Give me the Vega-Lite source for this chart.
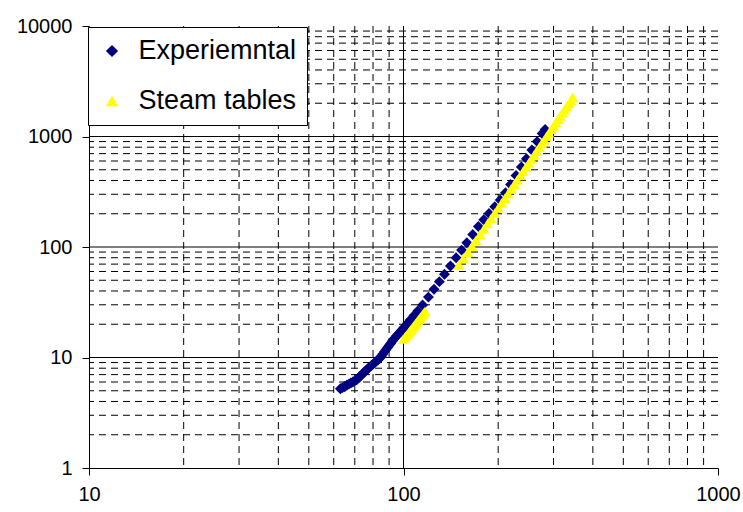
{
  "$schema": "https://vega.github.io/schema/vega-lite/v6.json",
  "autosize": "none",
  "width": 629,
  "height": 442,
  "padding": {"left": 89, "top": 26, "right": 25, "bottom": 44},
  "background": "white",
  "config": {"view": {"stroke": null}, "font": "Liberation Sans",
    "axisX": {"title": null, "format": "d", "grid": false, "domainColor": "#000", "tickColor": "#000", "tickSize": 7, "labelPadding": 9, "labelFontSize": 20, "labelColor": "#000", "labelFont": "Liberation Sans", "labelFlush": false, "labelOverlap": false},
    "axisY": {"title": null, "format": "d", "grid": false, "domainColor": "#000", "tickColor": "#000", "tickSize": 7, "labelPadding": 10, "labelFontSize": 20, "labelColor": "#000", "labelFont": "Liberation Sans", "labelOverlap": false}
  },
  "datasets": {
    "grid": [
      {"dir": "x", "kind": "minor", "v": 20}, {"dir": "x", "kind": "minor", "v": 30}, {"dir": "x", "kind": "minor", "v": 40}, {"dir": "x", "kind": "minor", "v": 50}, {"dir": "x", "kind": "minor", "v": 60}, {"dir": "x", "kind": "minor", "v": 70}, {"dir": "x", "kind": "minor", "v": 80}, {"dir": "x", "kind": "minor", "v": 90},
      {"dir": "x", "kind": "minor", "v": 200}, {"dir": "x", "kind": "minor", "v": 300}, {"dir": "x", "kind": "minor", "v": 400}, {"dir": "x", "kind": "minor", "v": 500}, {"dir": "x", "kind": "minor", "v": 600}, {"dir": "x", "kind": "minor", "v": 700}, {"dir": "x", "kind": "minor", "v": 800}, {"dir": "x", "kind": "minor", "v": 900},
      {"dir": "x", "kind": "major", "v": 100},
      {"dir": "y", "kind": "minor", "v": 2}, {"dir": "y", "kind": "minor", "v": 3}, {"dir": "y", "kind": "minor", "v": 4}, {"dir": "y", "kind": "minor", "v": 5}, {"dir": "y", "kind": "minor", "v": 6}, {"dir": "y", "kind": "minor", "v": 7}, {"dir": "y", "kind": "minor", "v": 8}, {"dir": "y", "kind": "minor", "v": 9},
      {"dir": "y", "kind": "minor", "v": 20}, {"dir": "y", "kind": "minor", "v": 30}, {"dir": "y", "kind": "minor", "v": 40}, {"dir": "y", "kind": "minor", "v": 50}, {"dir": "y", "kind": "minor", "v": 60}, {"dir": "y", "kind": "minor", "v": 70}, {"dir": "y", "kind": "minor", "v": 80}, {"dir": "y", "kind": "minor", "v": 90},
      {"dir": "y", "kind": "minor", "v": 200}, {"dir": "y", "kind": "minor", "v": 300}, {"dir": "y", "kind": "minor", "v": 400}, {"dir": "y", "kind": "minor", "v": 500}, {"dir": "y", "kind": "minor", "v": 600}, {"dir": "y", "kind": "minor", "v": 700}, {"dir": "y", "kind": "minor", "v": 800}, {"dir": "y", "kind": "minor", "v": 900},
      {"dir": "y", "kind": "minor", "v": 2000}, {"dir": "y", "kind": "minor", "v": 3000}, {"dir": "y", "kind": "minor", "v": 4000}, {"dir": "y", "kind": "minor", "v": 5000}, {"dir": "y", "kind": "minor", "v": 6000}, {"dir": "y", "kind": "minor", "v": 7000}, {"dir": "y", "kind": "minor", "v": 8000}, {"dir": "y", "kind": "minor", "v": 9000},
      {"dir": "y", "kind": "major", "v": 10}, {"dir": "y", "kind": "major", "v": 100}, {"dir": "y", "kind": "major", "v": 1000}
    ],
    "pts": [
      {"series": "Experiemntal", "T": 63, "P": 5.21}, {"series": "Experiemntal", "T": 64, "P": 5.35}, {"series": "Experiemntal", "T": 65, "P": 5.47}, {"series": "Experiemntal", "T": 66, "P": 5.6}, {"series": "Experiemntal", "T": 67, "P": 5.74}, {"series": "Experiemntal", "T": 68, "P": 5.87}, {"series": "Experiemntal", "T": 69, "P": 6.01}, {"series": "Experiemntal", "T": 70, "P": 6.15}, {"series": "Experiemntal", "T": 71, "P": 6.3}, {"series": "Experiemntal", "T": 72, "P": 6.55}, {"series": "Experiemntal", "T": 73, "P": 6.81}, {"series": "Experiemntal", "T": 74, "P": 7.08}, {"series": "Experiemntal", "T": 75, "P": 7.36}, {"series": "Experiemntal", "T": 76, "P": 7.65}, {"series": "Experiemntal", "T": 77, "P": 7.92}, {"series": "Experiemntal", "T": 78, "P": 8.18}, {"series": "Experiemntal", "T": 79, "P": 8.44}, {"series": "Experiemntal", "T": 80, "P": 8.71}, {"series": "Experiemntal", "T": 81, "P": 8.99}, {"series": "Experiemntal", "T": 82, "P": 9.27}, {"series": "Experiemntal", "T": 83, "P": 9.55}, {"series": "Experiemntal", "T": 84, "P": 9.84}, {"series": "Experiemntal", "T": 85, "P": 10.29}, {"series": "Experiemntal", "T": 86, "P": 10.76}, {"series": "Experiemntal", "T": 87, "P": 11.26}, {"series": "Experiemntal", "T": 88, "P": 11.78}, {"series": "Experiemntal", "T": 89, "P": 12.31}, {"series": "Experiemntal", "T": 90, "P": 12.85}, {"series": "Experiemntal", "T": 91, "P": 13.41}, {"series": "Experiemntal", "T": 92, "P": 14.0}, {"series": "Experiemntal", "T": 93, "P": 14.58}, {"series": "Experiemntal", "T": 94, "P": 15.1}, {"series": "Experiemntal", "T": 95, "P": 15.63}, {"series": "Experiemntal", "T": 96, "P": 16.15}, {"series": "Experiemntal", "T": 97, "P": 16.7}, {"series": "Experiemntal", "T": 98, "P": 17.26}, {"series": "Experiemntal", "T": 99, "P": 17.82}, {"series": "Experiemntal", "T": 100, "P": 18.41}, {"series": "Experiemntal", "T": 101, "P": 19.0}, {"series": "Experiemntal", "T": 103, "P": 20.4}, {"series": "Experiemntal", "T": 105, "P": 21.8}, {"series": "Experiemntal", "T": 108, "P": 24.0}, {"series": "Experiemntal", "T": 111, "P": 26.4}, {"series": "Experiemntal", "T": 115, "P": 29.8}, {"series": "Experiemntal", "T": 120, "P": 35.2}, {"series": "Experiemntal", "T": 125, "P": 41.5}, {"series": "Experiemntal", "T": 130, "P": 48.6}, {"series": "Experiemntal", "T": 135, "P": 56.6}, {"series": "Experiemntal", "T": 141, "P": 67.4}, {"series": "Experiemntal", "T": 147, "P": 79.8}, {"series": "Experiemntal", "T": 153, "P": 93.7}, {"series": "Experiemntal", "T": 159, "P": 109.4}, {"series": "Experiemntal", "T": 166, "P": 130}, {"series": "Experiemntal", "T": 173, "P": 153.5}, {"series": "Experiemntal", "T": 180, "P": 176.2}, {"series": "Experiemntal", "T": 187, "P": 200.7}, {"series": "Experiemntal", "T": 195, "P": 231.7}, {"series": "Experiemntal", "T": 203, "P": 266.1}, {"series": "Experiemntal", "T": 211, "P": 310}, {"series": "Experiemntal", "T": 219, "P": 368}, {"series": "Experiemntal", "T": 228, "P": 443}, {"series": "Experiemntal", "T": 237, "P": 529}, {"series": "Experiemntal", "T": 246, "P": 628}, {"series": "Experiemntal", "T": 256, "P": 754}, {"series": "Experiemntal", "T": 266, "P": 899}, {"series": "Experiemntal", "T": 276, "P": 1065}, {"series": "Experiemntal", "T": 282, "P": 1160},
      {"series": "Steam tables", "T": 100, "P": 14.71}, {"series": "Steam tables", "T": 101, "P": 15.24}, {"series": "Steam tables", "T": 102, "P": 15.79}, {"series": "Steam tables", "T": 103, "P": 16.35}, {"series": "Steam tables", "T": 104, "P": 16.92}, {"series": "Steam tables", "T": 105, "P": 17.53}, {"series": "Steam tables", "T": 106, "P": 18.13}, {"series": "Steam tables", "T": 107, "P": 18.77}, {"series": "Steam tables", "T": 108, "P": 19.42}, {"series": "Steam tables", "T": 109, "P": 20.09}, {"series": "Steam tables", "T": 110, "P": 20.8}, {"series": "Steam tables", "T": 111, "P": 21.48}, {"series": "Steam tables", "T": 112, "P": 22.21}, {"series": "Steam tables", "T": 113, "P": 22.96}, {"series": "Steam tables", "T": 114, "P": 23.72}, {"series": "Steam tables", "T": 115, "P": 24.54}, {"series": "Steam tables", "T": 116, "P": 25.32}, {"series": "Steam tables", "T": 117, "P": 26.15},
      {"series": "Steam tables", "T": 150, "P": 69.06}, {"series": "Steam tables", "T": 155, "P": 78.83}, {"series": "Steam tables", "T": 160, "P": 89.67}, {"series": "Steam tables", "T": 165, "P": 101.66}, {"series": "Steam tables", "T": 170, "P": 114.9}, {"series": "Steam tables", "T": 175, "P": 129.46}, {"series": "Steam tables", "T": 180, "P": 145.44}, {"series": "Steam tables", "T": 185, "P": 162.95}, {"series": "Steam tables", "T": 190, "P": 182.05}, {"series": "Steam tables", "T": 195, "P": 202.88}, {"series": "Steam tables", "T": 200, "P": 225.52}, {"series": "Steam tables", "T": 205, "P": 250.09}, {"series": "Steam tables", "T": 210, "P": 276.69}, {"series": "Steam tables", "T": 215, "P": 305.44}, {"series": "Steam tables", "T": 220, "P": 336.43}, {"series": "Steam tables", "T": 225, "P": 369.81}, {"series": "Steam tables", "T": 230, "P": 405.69}, {"series": "Steam tables", "T": 235, "P": 444.18}, {"series": "Steam tables", "T": 240, "P": 485.43}, {"series": "Steam tables", "T": 245, "P": 529.56}, {"series": "Steam tables", "T": 250, "P": 576.7}, {"series": "Steam tables", "T": 255, "P": 626.99}, {"series": "Steam tables", "T": 260, "P": 680.56}, {"series": "Steam tables", "T": 265, "P": 737.56}, {"series": "Steam tables", "T": 270, "P": 798.14}, {"series": "Steam tables", "T": 275, "P": 862.45}, {"series": "Steam tables", "T": 280, "P": 930.65}, {"series": "Steam tables", "T": 285, "P": 1002.9}, {"series": "Steam tables", "T": 290, "P": 1079.4}, {"series": "Steam tables", "T": 295, "P": 1160.2}, {"series": "Steam tables", "T": 300, "P": 1245.6}, {"series": "Steam tables", "T": 305, "P": 1335.7}, {"series": "Steam tables", "T": 310, "P": 1430.8}, {"series": "Steam tables", "T": 315, "P": 1531.0}, {"series": "Steam tables", "T": 320, "P": 1636.6}, {"series": "Steam tables", "T": 325, "P": 1747.8}, {"series": "Steam tables", "T": 330, "P": 1864.9}, {"series": "Steam tables", "T": 335, "P": 1988.0}, {"series": "Steam tables", "T": 340, "P": 2117.7}, {"series": "Steam tables", "T": 345, "P": 2254.0}
    ]
  },
  "layer": [
    {
      "data": {"name": "grid"},
      "transform": [{"filter": "datum.dir === 'x' && datum.kind === 'minor'"}],
      "mark": {"type": "rule", "stroke": "#000", "strokeWidth": 1, "strokeDash": [7, 5]},
      "encoding": {"x": {"field": "v", "type": "quantitative", "title": null, "scale": {"type": "log", "domain": [10, 1000]}, "axis": {"values": [10, 100, 1000]}}}
    },
    {
      "data": {"name": "grid"},
      "transform": [{"filter": "datum.dir === 'x' && datum.kind === 'major'"}],
      "mark": {"type": "rule", "stroke": "#000", "strokeWidth": 1},
      "encoding": {"x": {"field": "v", "type": "quantitative", "title": null, "scale": {"type": "log", "domain": [10, 1000]}, "axis": {"values": [10, 100, 1000]}}}
    },
    {
      "data": {"name": "grid"},
      "transform": [{"filter": "datum.dir === 'y' && datum.kind === 'minor'"}],
      "mark": {"type": "rule", "stroke": "#000", "strokeWidth": 1, "strokeDash": [7, 5]},
      "encoding": {"y": {"field": "v", "type": "quantitative", "title": null, "scale": {"type": "log", "domain": [1, 10000]}, "axis": {"values": [1, 10, 100, 1000, 10000]}}}
    },
    {
      "data": {"name": "grid"},
      "transform": [{"filter": "datum.dir === 'y' && datum.kind === 'major'"}],
      "mark": {"type": "rule", "stroke": "#000", "strokeWidth": 1},
      "encoding": {"y": {"field": "v", "type": "quantitative", "title": null, "scale": {"type": "log", "domain": [1, 10000]}, "axis": {"values": [1, 10, 100, 1000, 10000]}}}
    },
    {
      "data": {"name": "pts"},
      "mark": {"type": "point", "filled": true, "size": 120, "opacity": 1, "strokeWidth": 0},
      "encoding": {
        "x": {"field": "T", "type": "quantitative", "title": null, "scale": {"type": "log", "domain": [10, 1000]}, "axis": {"values": [10, 100, 1000]}},
        "y": {"field": "P", "type": "quantitative", "title": null, "scale": {"type": "log", "domain": [1, 10000]}, "axis": {"values": [1, 10, 100, 1000, 10000]}},
        "color": {"field": "series", "type": "nominal",
          "scale": {"domain": ["Experiemntal", "Steam tables"], "range": ["#000080", "#FFFF00"]},
          "legend": {"title": null, "orient": "none", "legendX": -1, "legendY": 1, "fillColor": "white", "strokeColor": "#000", "padding": 10.5, "labelFontSize": 27, "labelFont": "Liberation Sans", "labelColor": "#000", "labelLimit": 400, "symbolSize": 150, "rowPadding": 22, "labelOffset": 13, "symbolStrokeWidth": 0}},
        "shape": {"field": "series", "type": "nominal",
          "scale": {"domain": ["Experiemntal", "Steam tables"], "range": ["diamond", "triangle-up"]}}
      }
    }
  ]
}
